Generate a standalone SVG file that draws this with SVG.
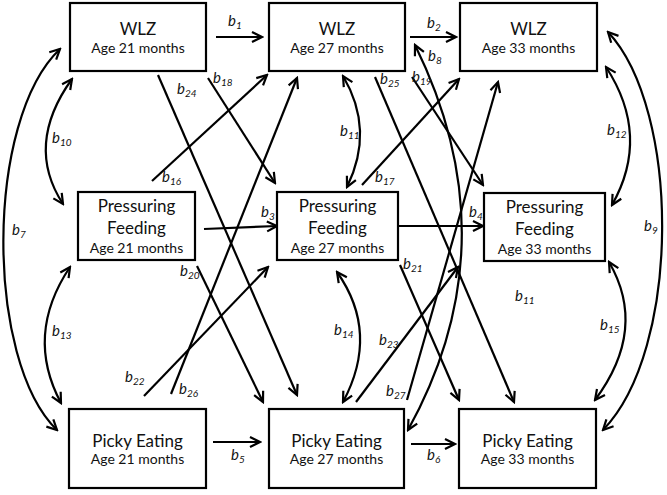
<svg xmlns="http://www.w3.org/2000/svg" width="667" height="495" viewBox="0 0 667 495">
<style>
.box{fill:#fff;stroke:#000;stroke-width:2.2}
.t{font-family:Lato,"Open Sans",sans-serif;font-size:17px;text-anchor:middle;fill:#111}
.s{font-family:Lato,"Open Sans",sans-serif;font-size:14px;text-anchor:middle;fill:#111}
.lb{font-family:Lato,"Open Sans",sans-serif;font-style:italic;font-size:15px;fill:#111}
.sub{font-size:10px}
.c path,.c line{fill:none;stroke:#000;stroke-width:2.2}
.one{marker-end:url(#ah)}
.two{marker-start:url(#ah);marker-end:url(#ah)}
</style>
<defs>
<marker id="ah" markerUnits="userSpaceOnUse" markerWidth="14" markerHeight="14" viewBox="-1 -1 14 14" refX="11" refY="6" orient="auto-start-reverse">
<path d="M1,1 L11,6 L1,11" fill="none" stroke="#000" stroke-width="2.2" stroke-linejoin="miter"/>
</marker>
</defs>
<rect width="667" height="495" fill="#fff"/>
<g class="c" id="connectors">
<line class="one" x1="216" y1="37" x2="262" y2="37"/>
<line class="one" x1="410" y1="37" x2="456" y2="37"/>
<line class="one" x1="204" y1="229" x2="277" y2="226"/>
<line class="one" x1="398" y1="226" x2="483" y2="226"/>
<line class="one" x1="213" y1="442" x2="260" y2="442"/>
<line class="one" x1="411" y1="444" x2="455" y2="444"/>
<line class="one" x1="152" y1="181" x2="267" y2="75"/>
<line class="one" x1="208" y1="78" x2="275" y2="183"/>
<line class="one" x1="158" y1="75" x2="297" y2="395"/>
<line class="one" x1="197" y1="266" x2="263" y2="402"/>
<line class="one" x1="144" y1="396" x2="268" y2="267"/>
<line class="one" x1="171" y1="394" x2="297" y2="78"/>
<line class="one" x1="375" y1="77" x2="514" y2="402"/>
<line class="one" x1="412" y1="77" x2="483" y2="185"/>
<line class="one" x1="362" y1="185" x2="459" y2="79"/>
<line class="one" x1="400" y1="265" x2="459" y2="400"/>
<line class="one" x1="356" y1="402" x2="458" y2="267"/>
<line class="one" x1="407" y1="400" x2="498" y2="82"/>
<path class="two" d="M60,49 C-15,120 -15,360 57,430"/>
<path class="two" d="M72,79 Q24.5,145 63,204"/>
<path class="two" d="M70,267 Q24.5,335 61,403"/>
<path class="two" d="M608,32 C681,110 681,350 603,430"/>
<path class="two" d="M606,67 Q651,136 612,205"/>
<path class="two" d="M609,262 Q648,329 595,400"/>
<path class="two" d="M343,76 Q375,130 347,187"/>
<path class="two" d="M337,272 Q380,333 343,402"/>
<path class="two" d="M415,45 Q512,242 408,430"/>
</g>
<g id="labels">
<text class="lb" x="228" y="26">b<tspan class="sub" dy="3">1</tspan></text>
<text class="lb" x="427" y="28">b<tspan class="sub" dy="3">2</tspan></text>
<text class="lb" x="261" y="217">b<tspan class="sub" dy="3">3</tspan></text>
<text class="lb" x="469" y="217">b<tspan class="sub" dy="3">4</tspan></text>
<text class="lb" x="231" y="460">b<tspan class="sub" dy="3">5</tspan></text>
<text class="lb" x="427" y="460">b<tspan class="sub" dy="3">6</tspan></text>
<text class="lb" x="12" y="235">b<tspan class="sub" dy="3">7</tspan></text>
<text class="lb" x="428" y="61">b<tspan class="sub" dy="3">8</tspan></text>
<text class="lb" x="644" y="231">b<tspan class="sub" dy="3">9</tspan></text>
<text class="lb" x="52" y="143">b<tspan class="sub" dy="3">10</tspan></text>
<text class="lb" x="340" y="136">b<tspan class="sub" dy="3">11</tspan></text>
<text class="lb" x="515" y="301">b<tspan class="sub" dy="3">11</tspan></text>
<text class="lb" x="607" y="135">b<tspan class="sub" dy="3">12</tspan></text>
<text class="lb" x="52" y="336">b<tspan class="sub" dy="3">13</tspan></text>
<text class="lb" x="334" y="335">b<tspan class="sub" dy="3">14</tspan></text>
<text class="lb" x="600" y="330">b<tspan class="sub" dy="3">15</tspan></text>
<text class="lb" x="162" y="182">b<tspan class="sub" dy="3">16</tspan></text>
<text class="lb" x="375" y="182">b<tspan class="sub" dy="3">17</tspan></text>
<text class="lb" x="213" y="83">b<tspan class="sub" dy="3">18</tspan></text>
<text class="lb" x="412" y="82">b<tspan class="sub" dy="3">19</tspan></text>
<text class="lb" x="180" y="276">b<tspan class="sub" dy="3">20</tspan></text>
<text class="lb" x="403" y="269">b<tspan class="sub" dy="3">21</tspan></text>
<text class="lb" x="125" y="382">b<tspan class="sub" dy="3">22</tspan></text>
<text class="lb" x="379" y="345">b<tspan class="sub" dy="3">23</tspan></text>
<text class="lb" x="177" y="94">b<tspan class="sub" dy="3">24</tspan></text>
<text class="lb" x="380" y="84">b<tspan class="sub" dy="3">25</tspan></text>
<text class="lb" x="179" y="394">b<tspan class="sub" dy="3">26</tspan></text>
<text class="lb" x="386" y="396">b<tspan class="sub" dy="3">27</tspan></text>
</g>
<g id="wlz21"><rect class="box" x="70" y="3" width="136" height="68"/><text class="t" x="138" y="35">WLZ</text><text class="s" x="138" y="53">Age 21 months</text></g>
<g id="wlz27"><rect class="box" x="269" y="3" width="136" height="68"/><text class="t" x="337" y="35">WLZ</text><text class="s" x="337" y="53">Age 27 months</text></g>
<g id="wlz33"><rect class="box" x="460" y="3" width="137" height="68"/><text class="t" x="528.5" y="35">WLZ</text><text class="s" x="528.5" y="53">Age 33 months</text></g>
<g id="pf21"><rect class="box" x="78" y="192" width="117" height="68"/><text class="t" x="136.5" y="212">Pressuring</text><text class="t" x="136.5" y="234">Feeding</text><text class="s" x="136.5" y="253">Age 21 months</text></g>
<g id="pf27"><rect class="box" x="277" y="192" width="121" height="68"/><text class="t" x="337.5" y="212">Pressuring</text><text class="t" x="337.5" y="234">Feeding</text><text class="s" x="337.5" y="253">Age 27 months</text></g>
<g id="pf33"><rect class="box" x="484" y="193" width="121" height="68"/><text class="t" x="544.5" y="213">Pressuring</text><text class="t" x="544.5" y="235">Feeding</text><text class="s" x="544.5" y="254">Age 33 months</text></g>
<g id="pe21"><rect class="box" x="69" y="409" width="137" height="79"/><text class="t" x="137.5" y="447">Picky Eating</text><text class="s" x="137.5" y="464">Age 21 months</text></g>
<g id="pe27"><rect class="box" x="269" y="409" width="135" height="79"/><text class="t" x="336.5" y="447">Picky Eating</text><text class="s" x="336.5" y="464">Age 27 months</text></g>
<g id="pe33"><rect class="box" x="459" y="409" width="137" height="79"/><text class="t" x="527.5" y="447">Picky Eating</text><text class="s" x="527.5" y="464">Age 33 months</text></g>
</svg>
